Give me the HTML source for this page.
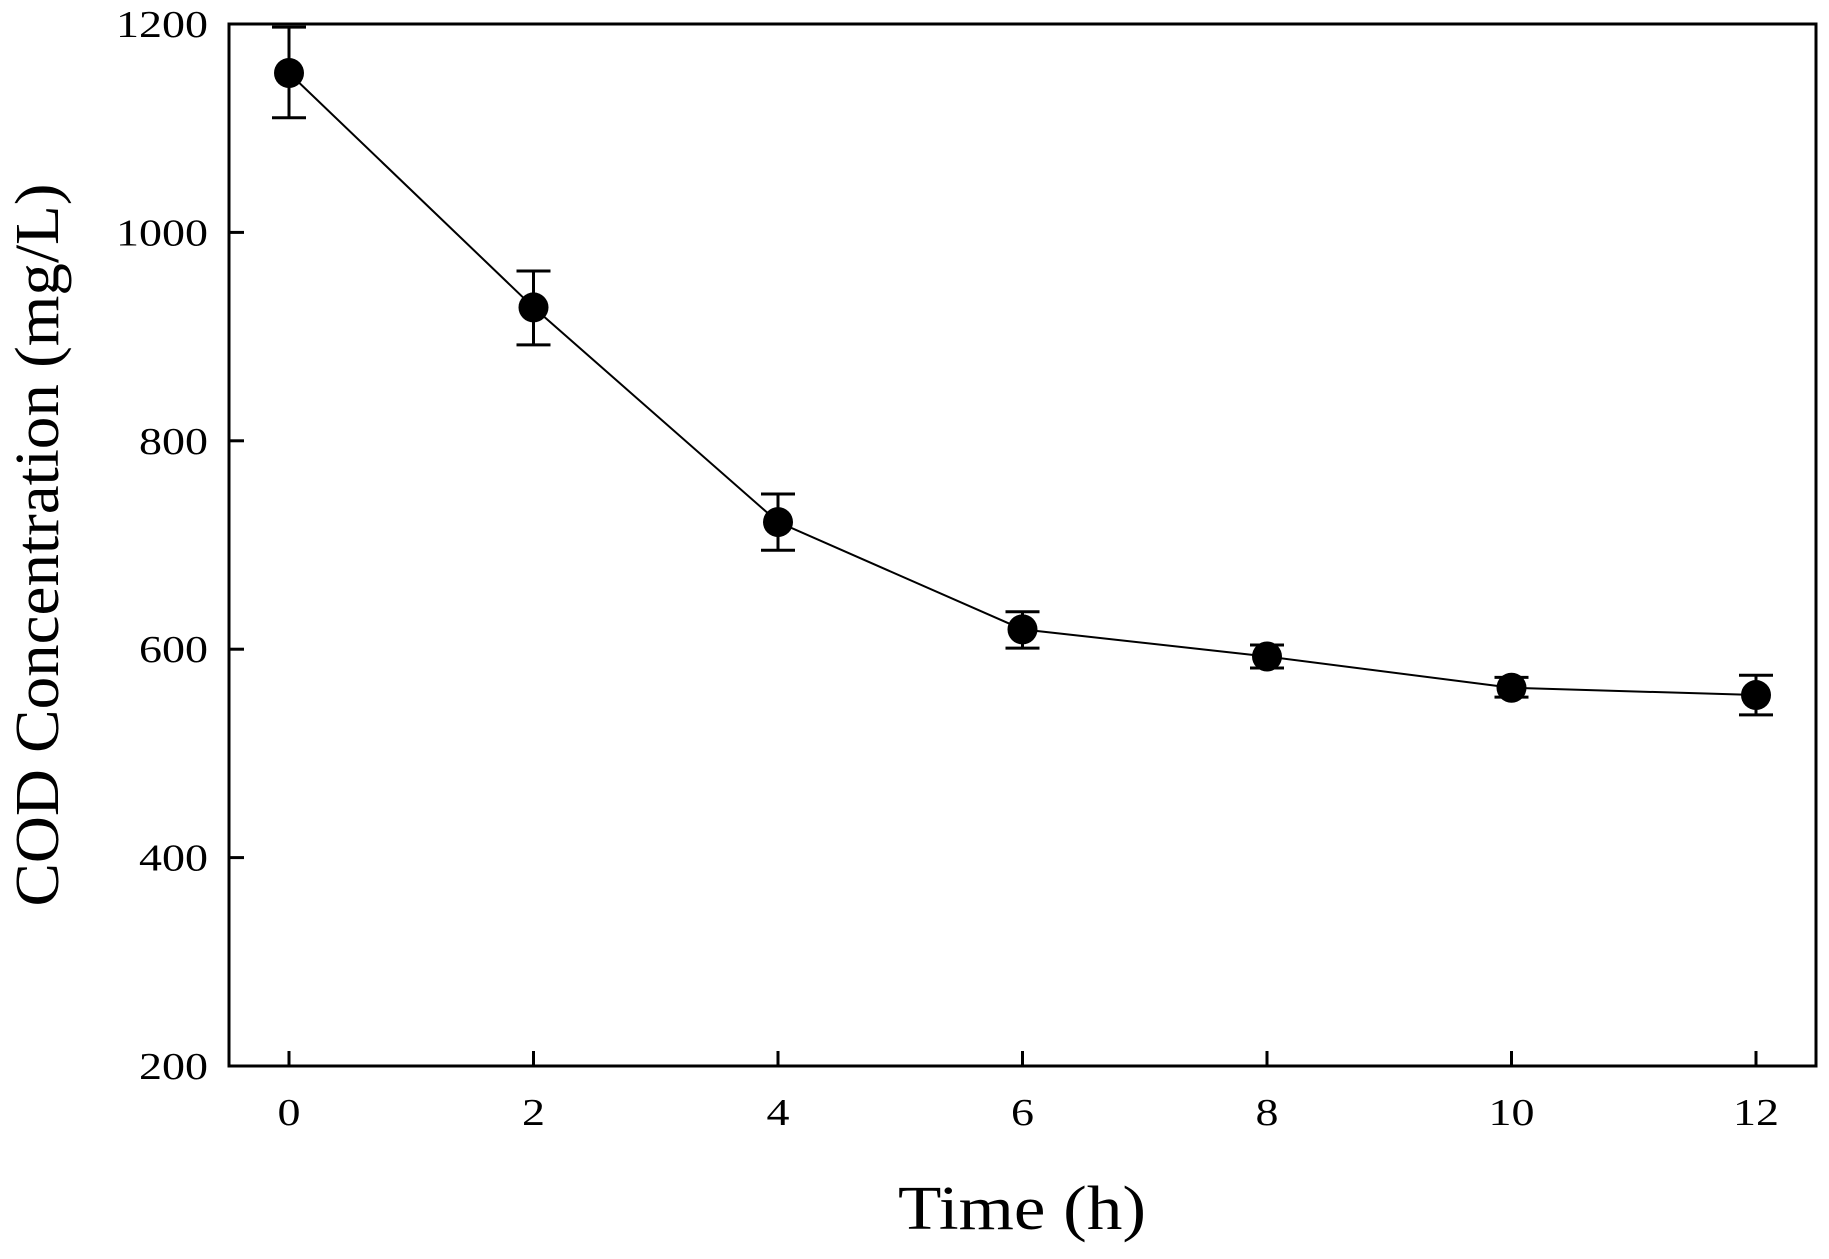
<!DOCTYPE html>
<html><head><meta charset="utf-8"><style>
body{margin:0;background:#fff}
svg{display:block;font-family:"Liberation Serif",serif}
</style></head><body>
<svg id="chart" width="1829" height="1259">
<rect x="229" y="24" width="1587" height="1042" fill="none" stroke="#000" stroke-width="3"/>
<g id="ticks"></g>
<g id="series"></g>
<text x="1022" y="1229" font-size="62" text-anchor="middle" textLength="248" lengthAdjust="spacingAndGlyphs">Time (h)</text>
<text transform="translate(58,545) rotate(-90)" font-size="62" text-anchor="middle" textLength="723" lengthAdjust="spacingAndGlyphs">COD Concentration (mg/L)</text>
</svg>
<script>
const times=[0,2,4,6,8,10,12];
const cod=[1153,928,722,619,593,563,556];
const errLow=[1110,892,695,601,582,554,537];
const errHigh=[1197,963,749,636,604,573,575];
const xTicks=[0,2,4,6,8,10,12];
const yTicks=[200,400,600,800,1000,1200];
const NS="http://www.w3.org/2000/svg";
const X=v=>289+(v/12)*(1756-289);
const Y=v=>1066-(v-200)/1000*1042;
function mk(t,a,p){const e=document.createElementNS(NS,t);for(const k in a)e.setAttribute(k,a[k]);p.appendChild(e);return e;}
const tg=document.getElementById('ticks'),sg=document.getElementById('series');
xTicks.forEach(v=>{
 const l=mk('line',{x1:X(v),x2:X(v),y1:1066,y2:1051,stroke:'#000','stroke-width':3},tg);
 
 
 const s=String(v);
 const t=mk('text',{x:X(v),y:1125,'font-size':38,'text-anchor':'middle',textLength:23*s.length,lengthAdjust:'spacingAndGlyphs'},tg);t.textContent=s;
 
 
});
yTicks.forEach(v=>{
 const l=mk('line',{x1:229,x2:244,y1:Y(v),y2:Y(v),stroke:'#000','stroke-width':3},tg);
 
 
 const s=String(v);
 const t=mk('text',{x:208,y:Y(v)+13,'font-size':38,'text-anchor':'end',textLength:23*s.length,lengthAdjust:'spacingAndGlyphs'},tg);t.textContent=s;
 
 
});
const pl=mk('polyline',{points:times.map((t,i)=>X(t)+','+Y(cod[i])).join(' '),fill:'none',stroke:'#000','stroke-width':2},sg);


times.forEach((t,i)=>{
 const x=X(t);
 const e=mk('path',{d:`M${x},${Y(errLow[i])}V${Y(errHigh[i])}M${x-17},${Y(errLow[i])}h34M${x-17},${Y(errHigh[i])}h34`,stroke:'#000','stroke-width':3,fill:'none'},sg);
 
 
 const c=mk('circle',{cx:x,cy:Y(cod[i]),r:15,fill:'#000'},sg);
 
 
});
</script>
</body></html>
